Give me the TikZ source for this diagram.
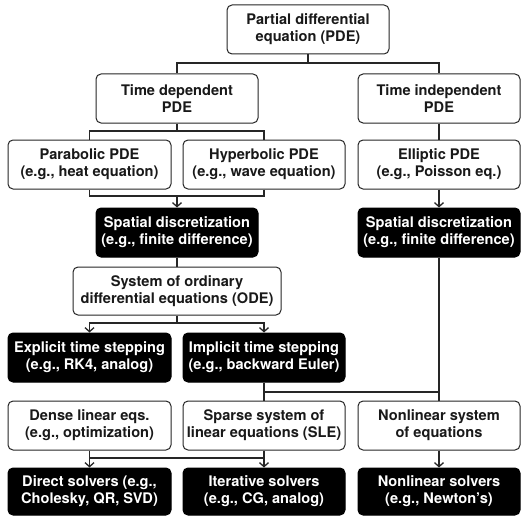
\documentclass[tikz,border=0pt]{standalone}
\usepackage{fontspec}
\setmainfont{TeX Gyre Heros}
\usetikzlibrary{arrows.meta}
\begin{document}
\begin{tikzpicture}[x=1pt,y=-1pt,
  box/.style={draw=black!85, line width=1pt, rounded corners=5pt, fill=white,
    minimum width=162pt, minimum height=49pt, align=center, inner sep=0pt,
    font=\fontsize{14.6}{17}\selectfont\bfseries, text=black!90},
  dbox/.style={box, fill=black, draw=black, text=white},
  conn/.style={line width=1.6pt, black!85},
  arr/.style={conn, -{Straight Barb[length=4pt,width=9pt,line width=1.3pt]}}]
\useasboundingbox (0,0) rectangle (521,516);
\node[box] (pde) at (308,29.5) {Partial differential\\equation (PDE)};
\node[box] (td) at (177,98.5) {Time dependent\\PDE};
\node[box] (ti) at (439,98.5) {Time independent\\PDE};
\node[box, minimum width=163pt] (para) at (89.5,164.5) {Parabolic PDE\\(e.g., heat equation)};
\node[box] (hyp) at (264,164.5) {Hyperbolic PDE\\(e.g., wave equation)};
\node[box] (ell) at (439,164.5) {Elliptic PDE\\(e.g., Poisson eq.)};
\node[dbox] (sd1) at (177,232.5) {Spatial discretization\\(e.g., finite difference)};
\node[dbox] (sd2) at (439,232.5) {Spatial discretization\\(e.g., finite difference)};
\node[box, minimum width=208pt, minimum height=48pt] (ode) at (177,291) {System of ordinary\\differential equations (ODE)};
\node[dbox, minimum width=163pt] (expl) at (89.5,357.5) {Explicit time stepping\\(e.g., RK4, analog)};
\node[dbox] (impl) at (264,357.5) {Implicit time stepping\\(e.g., backward Euler)};
\node[box, minimum width=163pt] (dense) at (89.5,425.5) {Dense linear eqs.\\(e.g., optimization)};
\node[box] (sparse) at (264,425.5) {Sparse system of\\linear equations (SLE)};
\node[box] (nls) at (439,425.5) {Nonlinear system\\of equations};
\node[dbox, minimum width=163pt, minimum height=47pt] (direct) at (89.5,491.5) {Direct solvers (e.g.,\\Cholesky, QR, SVD)};
\node[dbox, minimum height=47pt] (iter) at (264,491.5) {Iterative solvers\\(e.g., CG, analog)};
\node[dbox, minimum height=47pt] (nsol) at (439,491.5) {Nonlinear solvers\\(e.g., Newton's)};
% connectors
\coordinate (j1) at (308,63);
\draw[conn] (pde.south) -- (j1);
\draw[conn] (j1) -| (td.north);
\draw[conn] (j1) -| (ti.north);
\coordinate (j2) at (177,131);
\draw[conn] (td.south) -- (j2);
\draw[conn] (j2) -| (para.north);
\draw[conn] (j2) -| (hyp.north);
\draw[conn] (ti.south) -- (ell.north);
\coordinate (j3) at (177,196);
\draw[conn] (para.south) |- (j3);
\draw[conn] (hyp.south) |- (j3);
\draw[arr] (j3) -- (sd1.north);
\draw[arr] (ell.south) -- (sd2.north);
\draw[conn] (sd1.south) -- (ode.north);
\coordinate (j4) at (177,323);
\draw[conn] (ode.south) -- (j4);
\draw[arr] (j4) -| (expl.north);
\draw[arr] (j4) -| (impl.north);
\coordinate (j5) at (264,392);
\draw[conn] (impl.south) -- (sparse.north);
\draw[conn] (sd2.south) -- (nls.north);
\draw[conn] (j5) -- (sd2.south |- j5);
\coordinate (j6) at (264,458);
\draw[arr] (dense.south) -- (direct.north);
\draw[arr] (sparse.south) -- (iter.north);
\draw[conn] (dense.south |- j6) -- (j6);
\draw[arr] (nls.south) -- (nsol.north);
\end{tikzpicture}
\end{document}
